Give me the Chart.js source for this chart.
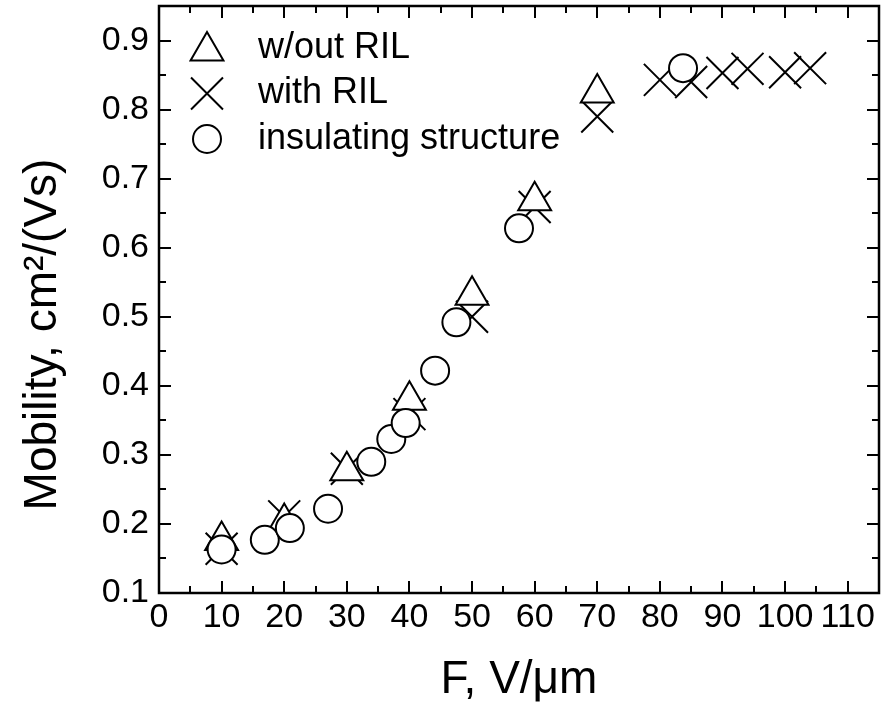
<!DOCTYPE html>
<html>
<head>
<meta charset="utf-8">
<script src="https://cdn.jsdelivr.net/npm/chart.js@4.4.1/dist/chart.umd.min.js"></script>
<style>
  body { margin: 0; background: #fff; }
  canvas { display: block; }
</style>
</head>
<body>
<canvas id="mobility" width="881" height="713"></canvas>
<script>
// field, V/um and mobility, cm2/(Vs)
const fieldNoRIL = [10, 20, 30, 40, 50, 60, 70];
const mobilityNoRIL = [0.176, 0.202, 0.277, 0.379, 0.531, 0.668, 0.824];

const fieldRIL = [10, 20, 30, 40, 50, 60, 70, 80, 85, 90, 94, 100, 104];
const mobilityRIL = [0.164, 0.211, 0.280, 0.359, 0.500, 0.659, 0.790, 0.843, 0.840, 0.853, 0.859, 0.854, 0.860];

const fieldInsul = [10, 16.9, 20.9, 27, 33.9, 37.1, 39.4, 44.1, 47.5, 57.5, 83.7];
const mobilityInsul = [0.163, 0.177, 0.194, 0.222, 0.290, 0.323, 0.346, 0.422, 0.492, 0.628, 0.860];

const seriesNames = ["w/out RIL", "with RIL", "insulating structure"];
const xTicks = [0, 10, 20, 30, 40, 50, 60, 70, 80, 90, 100, 110];
const yTicks = [0.1, 0.2, 0.3, 0.4, 0.5, 0.6, 0.7, 0.8, 0.9];
const yTitle = "Mobility, cm\u00b2/(Vs)";

const FONT = "'Liberation Sans', Arial, sans-serif";

function toPoints(xs, ys) {
  return xs.map((x, i) => ({ x, y: ys[i] }));
}

// marker look per series, also used by the legend
const markers = [
  { pointStyle: "triangle", radius: 19 },
  { pointStyle: "crossRot", radius: 22.6 },
  { pointStyle: "circle", radius: 14 }
];

// box round the plot with inward ticks on all four sides
const frameTicks = {
  id: "frameTicks",
  afterDraw(chart) {
    const ctx = chart.ctx;
    const { left, right, top, bottom } = chart.chartArea;
    const xs = chart.scales.x;
    const ys = chart.scales.y;
    ctx.save();
    ctx.strokeStyle = "#000";
    ctx.lineWidth = 2;

    const xMinor = xTicks.slice(0, -1).map((v, i) => (v + xTicks[i + 1]) / 2);
    xMinor.push(xTicks[xTicks.length - 1] + 5);
    const yMinor = yTicks.slice(0, -1).map((v, i) => (v + yTicks[i + 1]) / 2);
    yMinor.push(yTicks[yTicks.length - 1] + 0.05);

    ctx.beginPath();
    const tickX = (v, len) => {
      if (v <= xs.min || v >= xs.max) return;
      const px = Math.round(xs.getPixelForValue(v));
      ctx.moveTo(px, bottom); ctx.lineTo(px, bottom - len);
      ctx.moveTo(px, top); ctx.lineTo(px, top + len);
    };
    const tickY = (v, len) => {
      if (v <= ys.min + 1e-9 || v >= ys.max - 1e-9) return;
      const py = Math.round(ys.getPixelForValue(v));
      ctx.moveTo(left, py); ctx.lineTo(left + len, py);
      ctx.moveTo(right, py); ctx.lineTo(right - len, py);
    };
    xTicks.forEach(v => tickX(v, 12));
    xMinor.forEach(v => tickX(v, 7));
    yTicks.forEach(v => tickY(v, 12));
    yMinor.forEach(v => tickY(v, 7));
    ctx.stroke();

    ctx.lineWidth = 2.5;
    ctx.strokeRect(left, top, right - left, bottom - top);
    ctx.restore();
  }
};

// y axis title, set a bit below the middle of the axis
const yAxisTitle = {
  id: "yAxisTitle",
  afterDraw(chart) {
    const ctx = chart.ctx;
    const { top, bottom } = chart.chartArea;
    ctx.save();
    ctx.translate(43, (top + bottom) / 2 + 35);
    ctx.rotate(-Math.PI / 2);
    ctx.font = "46px " + FONT;
    ctx.fillStyle = "#000";
    ctx.textAlign = "center";
    ctx.textBaseline = "middle";
    ctx.fillText(yTitle, 0, 0);
    ctx.restore();
  }
};

// legend inside the top-left corner of the plot
const insetLegend = {
  id: "insetLegend",
  afterDraw(chart) {
    const ctx = chart.ctx;
    const { left, top } = chart.chartArea;
    ctx.save();
    ctx.font = "36px " + FONT;
    ctx.textBaseline = "middle";
    ctx.textAlign = "left";
    seriesNames.forEach((name, i) => {
      const rowY = top + 42 + i * 45.5;
      const m = markers[i];
      ctx.fillStyle = "#fff";
      ctx.strokeStyle = "#000";
      ctx.lineWidth = 2;
      Chart.helpers.drawPoint(ctx, {
        pointStyle: m.pointStyle,
        radius: m.radius,
        rotation: 0,
        borderWidth: 2
      }, left + 48, rowY + (m.pointStyle === "triangle" ? 3 : 0));
      ctx.fillStyle = "#000";
      ctx.fillText(name, left + 99, rowY);
    });
    ctx.restore();
  }
};

const pointSet = (label, data, i, order) => ({
  label,
  data,
  order,
  showLine: false,
  pointStyle: markers[i].pointStyle,
  pointRadius: markers[i].radius,
  pointHoverRadius: markers[i].radius,
  pointBorderWidth: 2,
  pointBorderColor: "#000",
  pointBackgroundColor: "#fff",
  clip: false
});

Chart.defaults.color = "#000";
Chart.defaults.font.family = FONT;

new Chart(document.getElementById("mobility"), {
  type: "scatter",
  data: {
    datasets: [
      pointSet(seriesNames[0], toPoints(fieldNoRIL, mobilityNoRIL), 0, 1),
      pointSet(seriesNames[1], toPoints(fieldRIL, mobilityRIL), 1, 2),
      pointSet(seriesNames[2], toPoints(fieldInsul, mobilityInsul), 2, 0)
    ]
  },
  options: {
    responsive: false,
    animation: false,
    layout: {
      autoPadding: false,
      padding: { top: 6, right: 2, left: 0, bottom: 0 }
    },
    plugins: {
      legend: { display: false },
      tooltip: { enabled: false }
    },
    scales: {
      x: {
        type: "linear",
        min: 0,
        max: 115,
        grid: { display: false, drawTicks: false },
        border: { display: false },
        afterBuildTicks: s => { s.ticks = xTicks.map(v => ({ value: v })); },
        afterFit: s => {
          s.height = 120;
          s.paddingLeft = 0; s.paddingRight = 0;
        },
        ticks: {
          font: { size: 34 },
          padding: 4,
          maxRotation: 0,
          autoSkip: false
        },
        title: {
          display: true,
          text: "F, V/\u03bcm",
          font: { size: 46 },
          padding: { top: 0, bottom: 5 }
        }
      },
      y: {
        type: "linear",
        min: 0.1,
        max: 0.95,
        grid: { display: false, drawTicks: false },
        border: { display: false },
        afterBuildTicks: s => { s.ticks = yTicks.map(v => ({ value: v })); },
        afterFit: s => {
          s.width = 159;
          s.paddingTop = 0; s.paddingBottom = 0;
        },
        ticks: {
          font: { size: 34 },
          padding: 10,
          autoSkip: false,
          callback: v => v.toFixed(1)
        }
      }
    }
  },
  plugins: [frameTicks, yAxisTitle, insetLegend]
});
</script>
</body>
</html>
